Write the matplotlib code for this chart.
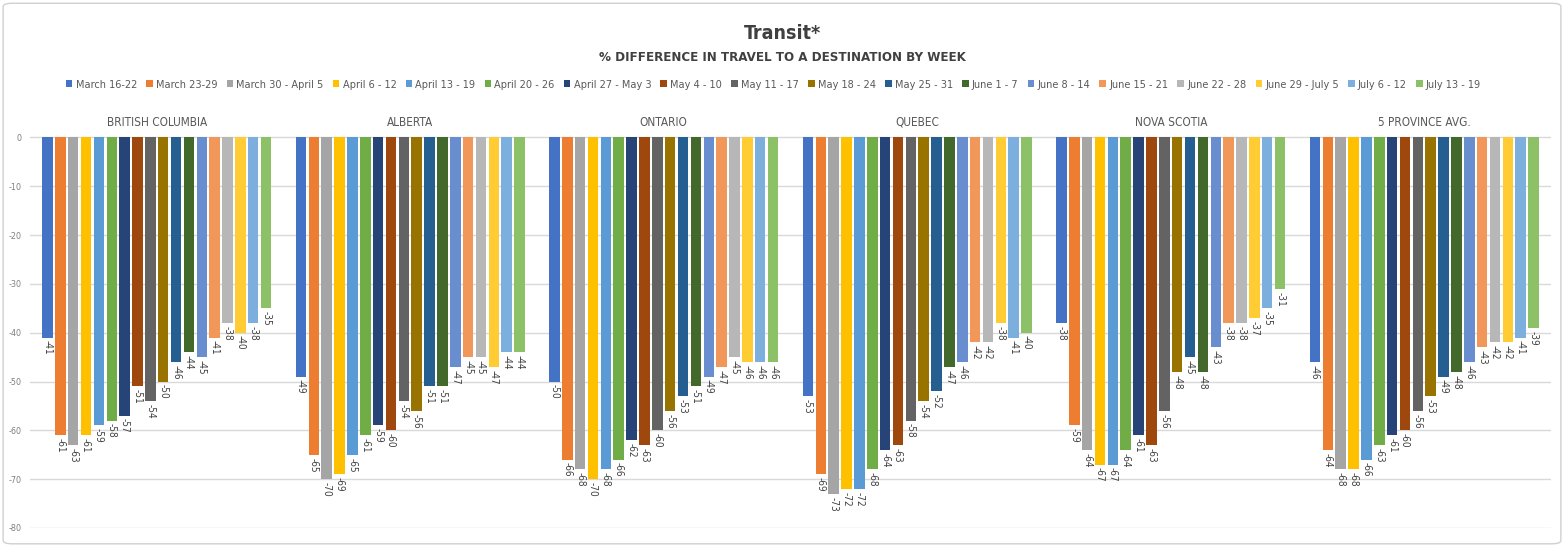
import numpy as np
import matplotlib.pyplot as plt
from matplotlib.patches import Patch, FancyBboxPatch

plt.rcParams['font.family'] = ['DejaVu Sans']
plt.rcParams['font.stretch'] = 'condensed'

# provinces (categories) and weeks (series)
provinces = ['BRITISH COLUMBIA', 'ALBERTA', 'ONTARIO', 'QUEBEC', 'NOVA SCOTIA', '5 PROVINCE AVG.']
weeks = ['March 16-22', 'March 23-29', 'March 30 - April 5', 'April 6 - 12', 'April 13 - 19',
         'April 20 - 26', 'April 27 - May 3', 'May 4 - 10', 'May 11 - 17', 'May 18 - 24',
         'May 25 - 31', 'June 1 - 7', 'June 8 - 14', 'June 15 - 21', 'June 22 - 28',
         'June 29 - July 5', 'July 6 - 12', 'July 13 - 19']

british_columbia = [-41, -61, -63, -61, -59, -58, -57, -51, -54, -50, -46, -44, -45, -41, -38, -40, -38, -35]
alberta = [-49, -65, -70, -69, -65, -61, -59, -60, -54, -56, -51, -51, -47, -45, -45, -47, -44, -44]
ontario = [-50, -66, -68, -70, -68, -66, -62, -63, -60, -56, -53, -51, -49, -47, -45, -46, -46, -46]
quebec = [-53, -69, -73, -72, -72, -68, -64, -63, -58, -54, -52, -47, -46, -42, -42, -38, -41, -40]
nova_scotia = [-38, -59, -64, -67, -67, -64, -61, -63, -56, -48, -45, -48, -43, -38, -38, -37, -35, -31]
province_avg = [-46, -64, -68, -68, -66, -63, -61, -60, -56, -53, -49, -48, -46, -43, -42, -42, -41, -39]

yticks = [0, -10, -20, -30, -40, -50, -60, -70, -80]

colors = ['#4472C4', '#ED7D31', '#A5A5A5', '#FFC000', '#5B9BD5', '#70AD47',
          '#264478', '#9E480E', '#636363', '#997300', '#255E91', '#43682B',
          '#698ED0', '#F1975A', '#B7B7B7', '#FFCD33', '#7CAFDD', '#8CC168']

data = np.array([british_columbia, alberta, ontario, quebec, nova_scotia, province_avg])

fig = plt.figure(figsize=(15.64, 5.46), dpi=100)
ax = fig.add_axes([0.0192, 0.033, 0.9725, 0.718])

n = len(weeks)
group_w = 0.913
slot = group_w / n
bar_w = slot * 0.82
x = np.arange(len(provinces))

for j in range(n):
    pos = x - group_w / 2 + slot * (j + 0.5)
    vals = data[:, j]
    ax.bar(pos, vals, width=bar_w, color=colors[j], zorder=2)
    for p, v in zip(pos, vals):
        ax.annotate(str(v), (p, v), xytext=(0, -2), textcoords='offset points',
                    rotation=-90, ha='center', va='top', fontsize=7.2, color='#404040')

ax.set_xlim(-0.5, len(provinces) - 0.5)
ax.set_ylim(-80, 0.3)
ax.set_yticks(yticks)
ax.set_yticklabels([str(t) for t in yticks], fontsize=6.5, color='#7F7F7F')
ax.tick_params(axis='y', length=0, pad=6)
ax.set_xticks([])
ax.grid(axis='y', color='#D9D9D9', linewidth=1, zorder=0)
for s in ax.spines.values():
    s.set_visible(False)

for i, name in enumerate(provinces):
    ax.text(i, 1.035, name, transform=ax.get_xaxis_transform(), ha='center', va='center',
            fontsize=8.5, color='#595959')

fig.text(0.5, 0.938, 'Transit*', ha='center', va='center', fontsize=14, fontweight='bold', color='#404040')
fig.text(0.5, 0.895, '% DIFFERENCE IN TRAVEL TO A DESTINATION BY WEEK', ha='center',
         va='center', fontsize=9.5, fontweight='bold', color='#404040')

handles = [Patch(facecolor=c) for c in colors]
fig.legend(handles, weeks, loc='center', bbox_to_anchor=(0.4945, 0.845), ncol=n, frameon=False,
           fontsize=7.8, handlelength=0.6, handleheight=0.6, handletextpad=0.3,
           columnspacing=0.85, labelcolor='#595959')

fig.patches.append(FancyBboxPatch((0.002, 0.004), 0.996, 0.99, boxstyle='round,pad=0,rounding_size=0.006',
                                  transform=fig.transFigure, fill=False, edgecolor='#D0D0D0', linewidth=1))

fig.savefig('out.png', dpi=100)
